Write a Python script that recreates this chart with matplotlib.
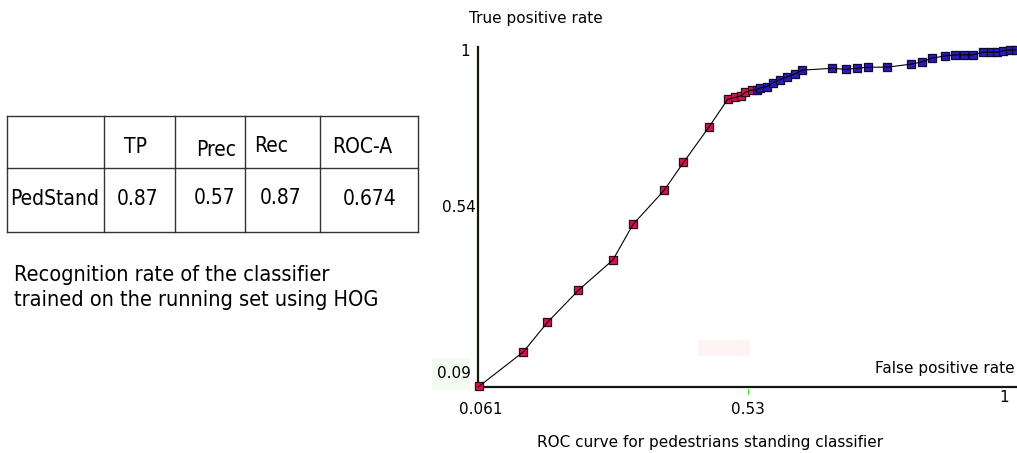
import matplotlib
matplotlib.use("Agg")
import numpy as np
from matplotlib import pyplot as plt
from matplotlib.patches import Rectangle

# ROC points (false positive rate, true positive rate)
fpr_red = [0.063, 0.140, 0.182, 0.236, 0.296, 0.331, 0.385, 0.419, 0.463,
           0.496, 0.509, 0.520, 0.527, 0.538]
tpr_red = [0.092, 0.184, 0.263, 0.349, 0.430, 0.525, 0.616, 0.691, 0.785,
           0.860, 0.865, 0.870, 0.879, 0.885]
fpr_blue = [0.547, 0.552, 0.564, 0.575, 0.587, 0.600, 0.613, 0.626, 0.678,
            0.702, 0.721, 0.741, 0.774, 0.815, 0.834, 0.852, 0.874, 0.892,
            0.908, 0.923, 0.941, 0.954, 0.966, 0.976, 0.988, 0.998]
tpr_blue = [0.885, 0.890, 0.894, 0.904, 0.913, 0.920, 0.928, 0.938, 0.943,
            0.940, 0.943, 0.946, 0.946, 0.954, 0.960, 0.970, 0.976, 0.979,
            0.979, 0.979, 0.986, 0.986, 0.986, 0.990, 0.992, 0.992]

col_labels = ["", "TP", "Prec", "Rec", "ROC-A"]
row_label = "PedStand"
row_values = ["0.87", "0.57", "0.87", "0.674"]

W, H = 1017, 453
fig = plt.figure(figsize=(W / 100, H / 100), dpi=100)
cond = dict(family="DejaVu Sans", stretch="condensed")


def px(x, y):
    # pixel position (top-left origin) -> figure fraction
    return x / W, 1 - y / H


# faint leftovers on the slide
for (x0, y0, w, h, c) in [(432, 358, 38, 32, "#f3fbf1"), (698, 340, 52, 16, "#fdf4f4")]:
    fig.patches.append(Rectangle(px(x0, y0 + h), w / W, h / H, transform=fig.transFigure,
                                 facecolor=c, edgecolor="none", zorder=0))

# ---- plot
ax = fig.add_axes([478 / W, 1 - 387 / H, 539 / W, 340 / H])
ax.set_xlim(0.061, 1.0)
ax.set_ylim(0.09, 1.0)
for s in ["top", "right"]:
    ax.spines[s].set_visible(False)
for s in ["left", "bottom"]:
    ax.spines[s].set_color("#0d1a0d")
    ax.spines[s].set_linewidth(1.6)
ax.set_xticks([])
ax.set_yticks([])
ax.patch.set_alpha(0)

fpr = fpr_red + fpr_blue
tpr = tpr_red + tpr_blue
ax.plot(fpr_red, tpr_red, "s", ms=7.6, color="#a0a0a0", alpha=0.45, mec="none", clip_on=False, zorder=2)
ax.plot(fpr_blue, tpr_blue, "s", ms=7.6, color="#a0a0a0", alpha=0.45, mec="none", clip_on=False, zorder=2)
ax.plot(fpr_red, tpr_red, "s", ms=6.3, mfc="#d0134c", mec="#2a0a14", mew=0.8, clip_on=False, zorder=3)
ax.plot(fpr_blue, tpr_blue, "s", ms=6.3, mfc="#2d1ab0", mec="#0d0838", mew=0.8, clip_on=False, zorder=3)
ax.plot([0.061] + fpr, [0.09] + tpr, color="black", lw=0.8, clip_on=False, zorder=4)

# green tick mark below 0.53
fig.add_artist(plt.Line2D([748 / W, 748 / W], [1 - 389 / H, 1 - 394 / H], color="#44dd44", lw=0.8))

fs = 11
fig.text(*px(536, 18), "True positive rate", ha="center", va="center", fontsize=fs)
fig.text(*px(470, 52), "1", ha="right", va="center", fontsize=fs)
fig.text(*px(476, 207), "0.54", ha="right", va="center", fontsize=fs)
fig.text(*px(471, 373), "0.09", ha="right", va="center", fontsize=fs)
fig.text(*px(481, 409), "0.061", ha="center", va="center", fontsize=fs)
fig.text(*px(748, 409), "0.53", ha="center", va="center", fontsize=fs)
fig.text(*px(1004, 398), "1", ha="center", va="center", fontsize=fs)
fig.text(*px(1015, 368), "False positive rate", ha="right", va="center", fontsize=fs)
fig.text(*px(710, 443), "ROC curve for pedestrians standing classifier", ha="center", va="center", fontsize=fs)

# ---- table
edges_x = [7, 104, 175, 245, 320, 418]
top, mid, bot = 116, 168, 232
lc = "#333333"
for yy in (top, mid, bot):
    fig.add_artist(plt.Line2D([px(7, 0)[0], px(418, 0)[0]], [px(0, yy)[1]] * 2, color=lc, lw=1))
for ex in edges_x:
    fig.add_artist(plt.Line2D([ex / W] * 2, [px(0, top)[1], px(0, bot)[1]], color=lc, lw=1))

tfs = 15
head_pos = [None, (136, 147), (216, 150), (271, 146), (362, 147)]
for lab, pos in zip(col_labels, head_pos):
    if pos is not None:
        fig.text(*px(*pos), lab, ha="center", va="center", fontsize=tfs, **cond)
fig.text(*px(55, 199), row_label, ha="center", va="center", fontsize=tfs, **cond)
val_pos = [(138, 199), (215, 198), (281, 198), (370, 199)]
for v, pos in zip(row_values, val_pos):
    fig.text(*px(*pos), v, ha="center", va="center", fontsize=tfs, **cond)

fig.text(*px(14, 275), "Recognition rate of the classifier", ha="left", va="center", fontsize=15.6, **cond)
fig.text(*px(14, 300), "trained on the running set using HOG", ha="left", va="center", fontsize=15.6, **cond)

fig.savefig("out.png", dpi=100)
